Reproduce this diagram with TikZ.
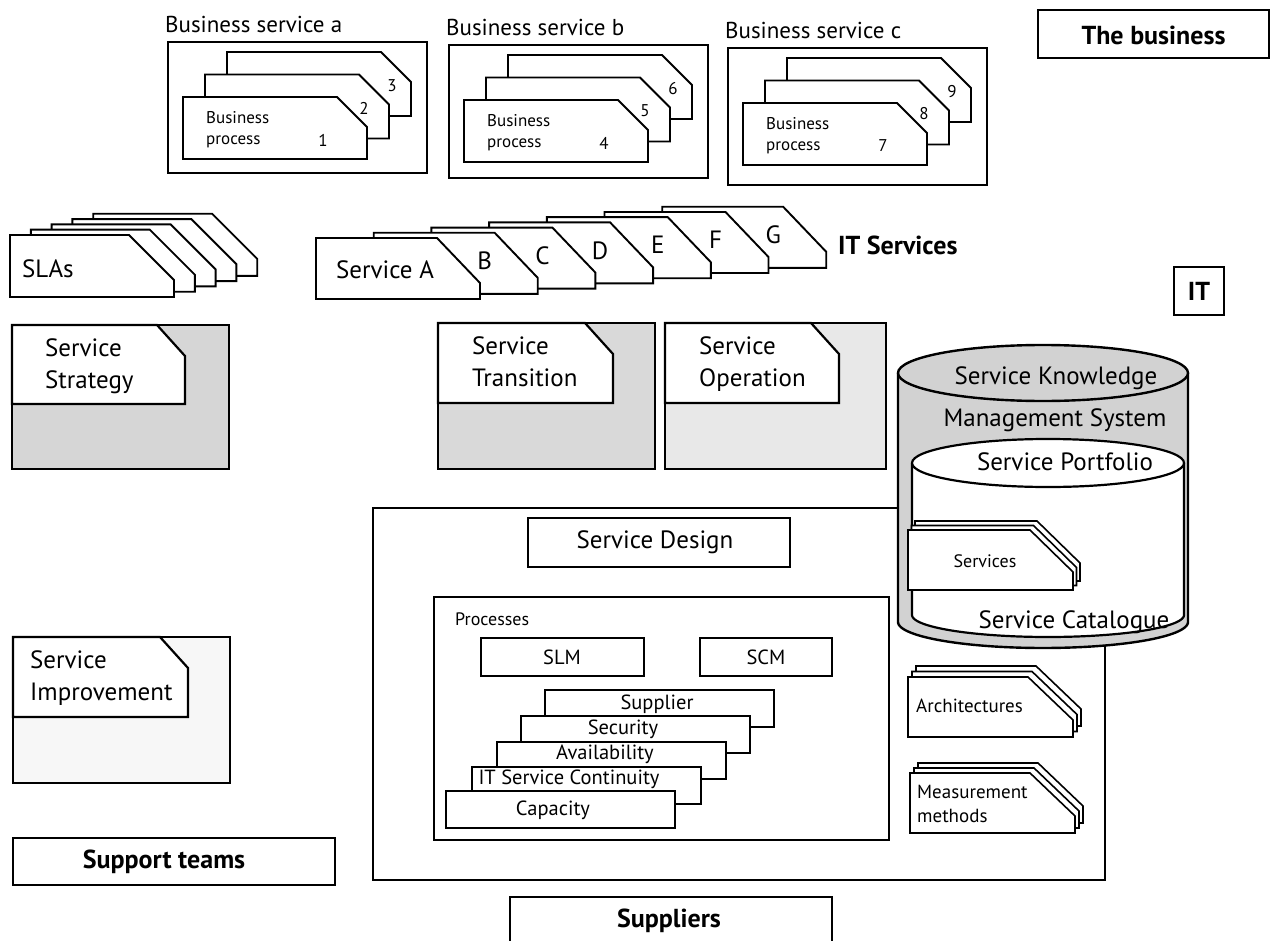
\documentclass[tikz,border=0pt]{standalone}
\usepackage{fontspec}
\setmainfont{PT Sans}
\tikzset{
  outer/.style={draw, line width=2.8pt},
  card/.style={draw, line width=1.9pt, fill=white, line join=miter},
  plainbox/.style={draw, line width=2.2pt, fill=white},
  big/.style={inner sep=0pt, font=\fontsize{25}{32}\selectfont},
  title/.style={inner sep=0pt, font=\fontsize{23}{28}\selectfont},
  mid/.style={inner sep=0pt, font=\fontsize{20.5}{23}\selectfont},
  small/.style={inner sep=0pt, font=\fontsize{18}{21}\selectfont},
  bpfont/.style={inner sep=0pt, font=\fontsize{17}{21}\selectfont},
  docfont/.style={inner sep=0pt, font=\fontsize{19}{24}\selectfont},
  boldlbl/.style={inner sep=0pt, font=\bfseries\fontsize{26}{29}\selectfont},
}
% chamfered card: x, y (top-left), w, h, chamfer dx, chamfer dy
\newcommand\chcard[7][]{%
  \draw[card,#1] (#2,#3) -- ({#2+#4-#6},#3) -- ({#2+#4},{#3+#7}) -- ({#2+#4},{#3+#5}) -- (#2,{#3+#5}) -- cycle;}
% business service: name, dx, dy, letter, n1, n2, n3, box bottom
\newcommand\bizservice[8]{%
  \begin{scope}[shift={(#2,#3)}]
    \node[title, anchor=west] (#1-title) at (165,24) {Business service #4};
    \draw[outer] (168,42) rectangle (427,#8);
    \chcard{227}{52}{184}{64}{30}{30}
    \chcard{205}{74.5}{184}{64}{30}{30}
    \chcard{183}{97}{184}{62}{30}{30}
    \node[bpfont, anchor=west, align=left] (#1-bp) at (206,130) {Business\\process};
    \node[bpfont] (#1-n1) at (323,140) {#5};
    \node[bpfont] (#1-n2) at (364,108) {#6};
    \node[bpfont] (#1-n3) at (392,86) {#7};
  \end{scope}}
% service lifecycle box: x1, y1, x2, y2, card right, card bottom, fill
\newcommand\svcbox[7]{%
  \draw[outer, fill=#7] (#1,#2) rectangle (#3,#4);
  \draw[card, line width=2.2pt] (#1,#2) -- ({#5-28},#2) -- (#5,{#2+31}) -- (#5,#6) -- (#1,#6) -- cycle;}
\begin{document}
\begin{tikzpicture}[x=1pt,y=-1pt]
\useasboundingbox (0,0) rectangle (1273,941);
\fill[white] (0,0) rectangle (1273,941);

% ---------- The business ----------
\bizservice{bsa}{0}{0}{a}{1}{2}{3}{173}
\bizservice{bsb}{281}{3}{b}{4}{5}{6}{175}
\bizservice{bsc}{560}{6}{c}{7}{8}{9}{179}

\draw[outer] (1038,10) rectangle (1269,58);
\node[boldlbl] (business) at (1153.5,35) {The business};

% ---------- SLAs ----------
\foreach \i in {4,3,2,1,0} {
  \chcard{10+\i*20.8}{235-\i*5.3}{164}{62}{45}{45}
}
\node[big, anchor=west] (slas) at (22,269) {SLAs};

% ---------- IT services ----------
\foreach \i in {6,5,4,3,2,1,0} {
  \chcard{316+\i*57.7}{238-\i*5.2}{164}{61}{43}{45}
}
\node[big] (svcA) at (385,270) {Service A};
\node[big] (svcB) at ({373.7+111},{232.8+28}) {B};
\node[big] (svcC) at ({431.4+111},{227.6+28}) {C};
\node[big] (svcD) at ({489.1+111},{222.4+28}) {D};
\node[big] (svcE) at ({546.8+111},{217.2+28}) {E};
\node[big] (svcF) at ({604.5+111},{212.0+28}) {F};
\node[big] (svcG) at ({662.2+111},{206.8+28}) {G};
\node[boldlbl, anchor=west] (itsvc) at (838,245) {IT Services};

\draw[outer] (1174,267) rectangle (1224,315);
\node[boldlbl] (it) at (1199,291) {IT};

% ---------- lifecycle boxes ----------
\svcbox{12}{325}{229}{469}{185}{404}{gray!32}
\node[big, anchor=north west, align=left] (strategy) at (45,338) {Service\\Strategy};
\svcbox{438}{323}{655}{469}{613}{403}{gray!30}
\node[big, anchor=north west, align=left] (transition) at (472,336) {Service\\Transition};
\svcbox{665}{323}{886}{469}{839}{403}{gray!18}
\node[big, anchor=north west, align=left] (operation) at (699,336) {Service\\Operation};
\svcbox{13}{637}{230}{783}{188}{717}{gray!6}
\node[big, anchor=north west, align=left] (improvement) at (30,650) {Service\\Improvement};

% ---------- Service design frame ----------
\draw[line width=2.4pt] (905,508) -- (373,508) -- (373,880) -- (1105,880) -- (1105,620);
\draw[plainbox, line width=2.6pt] (528,518) rectangle (790,567);
\node[big] (design) at (655,542) {Service Design};

\draw[plainbox] (434,597) rectangle (889,840);
\node[small, anchor=west] (processes) at (455,619) {Processes};
\draw[plainbox] (481,638) rectangle (644,676);
\node[mid] (slm) at (562,657) {SLM};
\draw[plainbox] (700,638) rectangle (832,676);
\node[mid] (scm) at (766,657) {SCM};

\draw[plainbox] (545,690) rectangle ++(229,37);
\draw[plainbox] (521,716) rectangle ++(229,37);
\draw[plainbox] (497,742) rectangle ++(229,37);
\draw[plainbox] (472,767) rectangle ++(229,37);
\draw[plainbox] (446,791) rectangle ++(229,37);
\node[mid] (supplier) at (657,704) {Supplier};
\node[mid] (security) at (623,729) {Security};
\node[mid] (availability) at (605,754) {Availability};
\node[mid] (itsc) at (569,779) {IT Service Continuity};
\node[mid] (capacity) at (553,810) {Capacity};

% ---------- SKMS cylinder ----------
\path[fill=gray!35, draw, line width=2.4pt] (898,373) -- plot[domain=180:360, samples=60] ({1043+145*cos(\x)},{622-26*sin(\x)}) -- (1188,373);
\draw[fill=gray!35, line width=2.4pt] (1043,373) ellipse [x radius=145, y radius=28];
\node[big] (skms1) at (1056,378) {Service Knowledge};
\node[big] (skms2) at (1055,420) {Management System};

\path[fill=white, draw, line width=2.2pt] (912,463) -- plot[domain=180:360, samples=60] ({1048+136*cos(\x)},{615-22*sin(\x)}) -- (1184,463);
\draw[fill=white, line width=2.2pt] (1048,463) ellipse [x radius=136, y radius=24];
\node[big] (portfolio) at (1065,462) {Service Portfolio};
\node[big] (catalogue) at (1074,622) {Service Catalogue};

\foreach \i in {2,1,0} {
  \chcard[line width=1.6pt]{908+\i*3.5}{530-\i*4.5}{165}{60}{43}{42}
}
\node[small] (services) at (985,561) {Services};

% ---------- Architectures / Measurement ----------
\foreach \i in {2,1,0} {
  \chcard[line width=1.6pt]{908+\i*4}{677-\i*5.5}{165}{60}{45}{43}
}
\node[docfont, anchor=west] (arch) at (916,706) {Architectures};
\foreach \i in {2,1,0} {
  \chcard[line width=1.6pt]{910+\i*4}{773-\i*5}{165}{60}{45}{43}
}
\node[docfont, anchor=west, align=left] (meas) at (917,804) {Measurement\\methods};

% ---------- Support teams / Suppliers ----------
\draw[outer] (13,838) rectangle (335,885);
\node[boldlbl] (support) at (164,862) {Support teams};
\draw[outer] (510,897) rectangle (832,960);
\node[boldlbl] (suppliers) at (669,921) {Suppliers};
\end{tikzpicture}
\end{document}
